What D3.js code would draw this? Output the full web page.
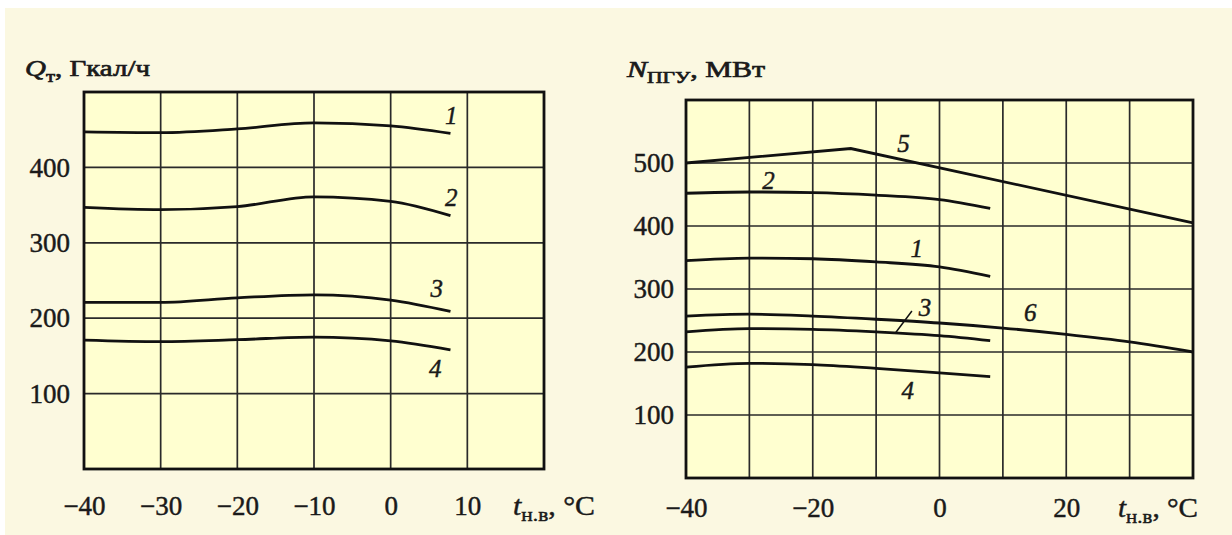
<!DOCTYPE html>
<html>
<head>
<meta charset="utf-8">
<script src="https://cdn.jsdelivr.net/npm/d3@7"></script>
<style>
  body { margin: 0; background: #ffffff; }
  svg text { font-family: "Liberation Serif", "Times New Roman", serif; fill: #1a1a1a; stroke: #1a1a1a; stroke-width: 0.45px; }
  .tick text { font-size: 27px; }
  .curve { fill: none; stroke: #111; stroke-width: 2.8; }
  .grid line { stroke: #2a2a2a; stroke-width: 1.7; }
  .lbl { font-size: 25px; font-style: italic; }
  .ttl { stroke-width: 0.7px; }
</style>
</head>
<body>
<div id="main"></div>
<script>
// ---- data ----
// left chart: heat output Q_t (Gcal/h) vs outdoor temperature
var tempsQ = [-40, -30, -20, -10, 0, 7.8];
var q1 = [447, 446, 451, 459, 455, 445];
var q2 = [347, 344, 348, 361, 355, 336];
var q3 = [221, 221, 227, 231, 224, 209];
var q4 = [171, 169, 171.5, 175, 170, 158];
var qXTicks = [-40, -30, -20, -10, 0, 10];
var qYTicks = [100, 200, 300, 400];

// right chart: CCGT power N (MW)
var tempsN = [-40, -30, -20, -10, 0, 8];
var n1 = [345, 349, 348, 343, 335, 320];
var n2 = [452, 454, 453, 449, 442, 428];
var n3 = [232, 237, 236, 232, 226, 218];
var n4 = [176, 182, 180, 174, 167, 161];
var temps5 = [-40, -14, 40];
var n5 = [500, 523, 405];
var temps6 = [-40, -30, -20, -10, 0, 10, 20, 30, 40];
var n6 = [257, 260, 257, 252, 246, 238, 228, 216, 200];
var nXTicks = [-40, -20, 0, 20];
var nYTicks = [100, 200, 300, 400, 500];

// curve number labels (data coords)
var qLabels = [["1", 7.9, 469], ["2", 7.9, 361], ["3", 6.0, 240], ["4", 5.8, 133]];
var nLabels = [["5", -5.7, 532], ["2", -27, 473], ["1", -3.6, 365], ["3", -2.3, 271], ["6", 14.3, 263], ["4", -5, 140]];

var svg = d3.select("#main").append("svg")
    .attr("width", 1232).attr("height", 535);

// cream page background
svg.append("rect").attr("x", 5).attr("y", 8)
   .attr("width", 1227).attr("height", 527).attr("fill", "#fbf8e1");

var drawPanel = function(p){
    var x = d3.scaleLinear().domain(p.xDom).range(p.xRange);
    var y = d3.scaleLinear().domain(p.yDom).range(p.yRange);
    var g = svg.append("g");

    g.append("rect")
     .attr("x", p.xRange[0]).attr("y", p.yRange[1])
     .attr("width", p.xRange[1] - p.xRange[0])
     .attr("height", p.yRange[0] - p.yRange[1])
     .attr("fill", "#ffffd0");

    // grid
    var grid = g.append("g").attr("class", "grid");
    grid.selectAll(".vl").data(d3.range(p.xDom[0] + 10, p.xDom[1], 10)).enter()
        .append("line")
        .attr("x1", d => x(d)).attr("x2", d => x(d))
        .attr("y1", p.yRange[0]).attr("y2", p.yRange[1]);
    grid.selectAll(".hl").data(p.yTicks).enter()
        .append("line")
        .attr("x1", p.xRange[0]).attr("x2", p.xRange[1])
        .attr("y1", d => y(d)).attr("y2", d => y(d));

    // frame
    g.append("rect")
     .attr("x", p.xRange[0]).attr("y", p.yRange[1])
     .attr("width", p.xRange[1] - p.xRange[0])
     .attr("height", p.yRange[0] - p.yRange[1])
     .attr("fill", "none").attr("stroke", "#111").attr("stroke-width", 2.8);

    // tick labels
    var xa = g.append("g")
      .attr("transform", `translate(0,${p.yRange[0]})`)
      .call(d3.axisBottom(x).tickValues(p.xTicks).tickSize(0).tickPadding(p.xPad));
    xa.select(".domain").remove();
    var ya = g.append("g")
      .attr("transform", `translate(${p.xRange[0]},0)`)
      .call(d3.axisLeft(y).tickValues(p.yTicks).tickSize(0).tickPadding(p.yPad));
    ya.select(".domain").remove();
    g.selectAll(".tick text").attr("fill", "#1a1a1a").attr("font-family", null);

    // curves
    p.series.forEach(function(s){
        var pts = s.t.map((t, i) => [t, s.v[i]]);
        g.append("path")
         .attr("class", "curve")
         .attr("d", d3.line().x(d => x(d[0])).y(d => y(d[1]))
                    .curve(s.linear ? d3.curveLinear : d3.curveMonotoneX)(pts));
    });

    // curve labels
    g.selectAll(".lbl").data(p.labels).enter()
     .append("text").attr("class", "lbl")
     .attr("x", d => x(d[1])).attr("y", d => y(d[2]))
     .attr("text-anchor", "middle").attr("dy", "0.35em")
     .text(d => d[0]);

    p.x = x; p.y = y;
    return g;
};

var left = {
    xDom: [-40, 20], xRange: [84, 544],
    yDom: [0, 500], yRange: [469, 92],
    xTicks: qXTicks, yTicks: qYTicks,
    xPad: 27, yPad: 14,
    series: [{t: tempsQ, v: q1}, {t: tempsQ, v: q2}, {t: tempsQ, v: q3}, {t: tempsQ, v: q4}],
    labels: qLabels
};
var right = {
    xDom: [-40, 40], xRange: [686, 1193],
    yDom: [0, 600], yRange: [478, 100],
    xTicks: nXTicks, yTicks: nYTicks,
    xPad: 20, yPad: 12,
    series: [{t: tempsN, v: n1}, {t: tempsN, v: n2}, {t: tempsN, v: n3}, {t: tempsN, v: n4},
             {t: temps5, v: n5, linear: true}, {t: temps6, v: n6}],
    labels: nLabels
};
var gl = drawPanel(left);
var gr = drawPanel(right);

// leader line for label 3 on right chart
gr.append("line")
  .attr("x1", right.x(-4.35)).attr("y1", right.y(265))
  .attr("x2", right.x(-6.9)).attr("y2", right.y(231))
  .attr("stroke", "#111").attr("stroke-width", 1.5);

// axis titles
var title = function(g, x, y, main, sub, rest, len, size, cls){
    var t = g.append("text").attr("x", x).attr("y", y)
      .attr("font-size", size).attr("class", cls)
      .attr("textLength", len).attr("lengthAdjust", "spacingAndGlyphs");
    t.append("tspan").attr("font-style", "italic").text(main);
    t.append("tspan").attr("font-size", size * 0.72).attr("dy", 6).text(sub);
    t.append("tspan").attr("dy", -6).text(rest);
};
title(gl, 25, 76, "Q", "т", ", Гкал/ч", 125, 24, "ttl");
title(gr, 627, 77, "N", "ПГУ", ", МВт", 138, 24, "ttl");
title(gl, 513, 515, "t", "н.в", ", °C", 82, 27, null);
title(gr, 1118, 517, "t", "н.в", ", °C", 80, 27, null);
</script>
</body>
</html>
